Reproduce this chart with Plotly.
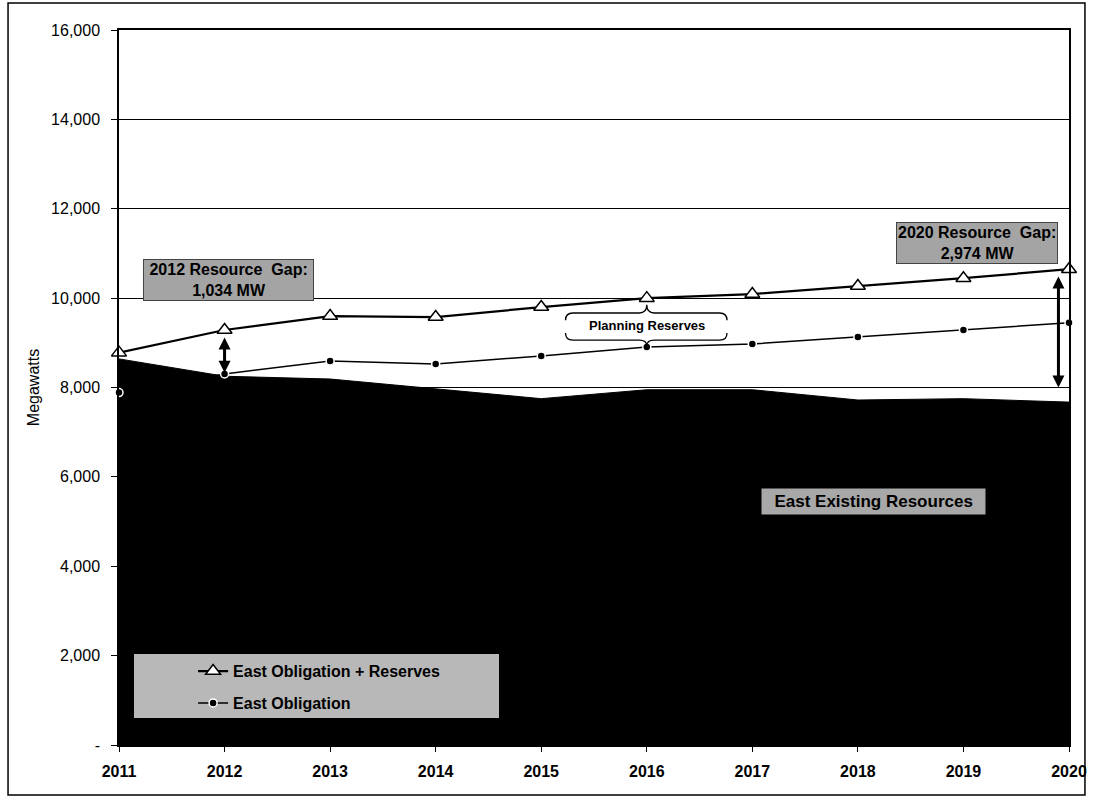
import plotly.graph_objects as go

years = [2011, 2012, 2013, 2014, 2015, 2016, 2017, 2018, 2019, 2020]
existing_resources = [8640, 8252, 8190, 7970, 7750, 7950, 7950, 7720, 7750, 7673]
obligation = [7886, 8304, 8594, 8527, 8705, 8906, 8973, 9129, 9286, 9449]
obligation_reserves = [8780, 9286, 9598, 9576, 9800, 10000, 10090, 10270, 10446, 10647]

y_ticks = [0, 2000, 4000, 6000, 8000, 10000, 12000, 14000, 16000]
y_tick_text = ["-", "2,000", "4,000", "6,000", "8,000", "10,000", "12,000", "14,000", "16,000"]

FONT = "Arial, Liberation Sans, sans-serif"

fig = go.Figure()

fig.add_trace(go.Scatter(
    x=years, y=existing_resources, mode="lines", fill="tozeroy",
    fillcolor="black", line=dict(color="black", width=1),
    name="East Existing Resources", showlegend=False, hoverinfo="skip"))

fig.add_trace(go.Scatter(
    x=years, y=obligation, mode="lines+markers", cliponaxis=False,
    line=dict(color="black", width=1.5),
    marker=dict(symbol="circle", size=8, color="black", line=dict(color="white", width=1.5)),
    name="<b>East Obligation</b>", legendgroup="b", legendrank=2))

fig.add_trace(go.Scatter(
    x=years, y=obligation_reserves, mode="lines+markers", cliponaxis=False,
    line=dict(color="black", width=2.2),
    marker=dict(symbol="triangle-up", size=13, color="white", line=dict(color="black", width=1.5)),
    name="<b>East Obligation + Reserves</b>", legendgroup="a", legendrank=1))

box_font = dict(family=FONT, size=16, color="black")

annotations = [
    dict(x=2012.04, y=10410, xref="x", yref="y", showarrow=False,
         text="<b>&nbsp;2012 Resource  Gap:&nbsp;<br>1,034 MW</b>", font=box_font,
         bgcolor="#a4a4a4", bordercolor="#444", borderwidth=1, borderpad=1),
    dict(x=2019.13, y=11240, xref="x", yref="y", showarrow=False,
         text="<b>2020 Resource  Gap:<br>2,974 MW</b>", font=box_font,
         bgcolor="#a4a4a4", bordercolor="#444", borderwidth=1, borderpad=1),
    dict(x=2018.15, y=5440, xref="x", yref="y", showarrow=False,
         text="<b>&nbsp;&nbsp;East Existing Resources&nbsp;&nbsp;</b>",
         font=dict(family=FONT, size=17, color="black"),
         bgcolor="#a8a8a8", borderpad=3),
    dict(x=2016, y=9380, xref="x", yref="y", showarrow=False,
         text="<b>Planning Reserves</b>", font=dict(family=FONT, size=13, color="black")),
    # double arrows
    dict(x=2012, y=8330, ax=2012, ay=9150, xref="x", yref="y", axref="x", ayref="y",
         showarrow=True, arrowhead=2, startarrowhead=2, arrowside="end+start",
         arrowwidth=3, arrowsize=0.8, startarrowsize=0.8, arrowcolor="black", text=""),
    dict(x=2019.9, y=8000, ax=2019.9, ay=10520, xref="x", yref="y", axref="x", ayref="y",
         showarrow=True, arrowhead=2, startarrowhead=2, arrowside="end+start",
         arrowwidth=3, arrowsize=0.8, startarrowsize=0.8, arrowcolor="black", text=""),
]

# Planning reserves brace box
bx0, bx1 = 2015.23, 2016.76
by0, by1 = 9060, 9667
tip_top, tip_bot = 9850, 8930
r = 0.07
ry = 160
mid = 2016
brace = (f"M {bx0},{by1-ry} Q {bx0},{by1} {bx0+r},{by1} "
         f"L {mid-r},{by1} Q {mid},{by1} {mid},{tip_top} "
         f"Q {mid},{by1} {mid+r},{by1} L {bx1-r},{by1} Q {bx1},{by1} {bx1},{by1-ry} "
         f"M {bx1},{by0+ry} Q {bx1},{by0} {bx1-r},{by0} L {mid+r},{by0} "
         f"Q {mid},{by0} {mid},{tip_bot} Q {mid},{by0} {mid-r},{by0} "
         f"L {bx0+r},{by0} Q {bx0},{by0} {bx0},{by0+ry}")

shapes = [
    # legend background
    dict(type="rect", xref="paper", yref="paper", x0=0.0158, x1=0.40, y0=0.0378, y1=0.1273,
         fillcolor="#b8b8b8", line=dict(width=0), layer="above"),
    dict(type="path", path=brace, xref="x", yref="y", line=dict(color="black", width=1.3)),
    # outer border
    dict(type="rect", xref="paper", yref="paper", x0=-0.1168, x1=1.0168, y0=-0.0699, y1=1.0378,
         line=dict(color="black", width=1.5), fillcolor="rgba(0,0,0,0)"),
]

fig.update_layout(
    width=1093, height=800,
    margin=dict(l=119, r=24, t=30, b=55, autoexpand=False),
    paper_bgcolor="white", plot_bgcolor="white",
    font=dict(family=FONT, size=16, color="black"),
    showlegend=True,
    legend=dict(x=0.078, y=0.127, xanchor="left", yanchor="top",
                bgcolor="rgba(0,0,0,0)", font=dict(family=FONT, size=16, color="black"),
                tracegroupgap=8, traceorder="grouped"),
    annotations=annotations, shapes=shapes,
)

fig.update_xaxes(
    range=[2011, 2020], tickvals=years, ticktext=[f"<b>{y}</b>" for y in years],
    showgrid=False, showline=True, linecolor="black", linewidth=1.5, mirror=True,
    ticks="outside", ticklen=5, tickcolor="black", zeroline=False, ticklabelstandoff=6,
    automargin=False,
    tickfont=dict(family=FONT, size=16, color="black"))

fig.update_yaxes(
    range=[0, 16000], tickvals=y_ticks, ticktext=y_tick_text,
    showgrid=True, gridcolor="black", gridwidth=1,
    showline=True, linecolor="black", linewidth=1.5, mirror=True,
    ticks="outside", ticklen=6, tickcolor="black", zeroline=False, ticklabelstandoff=8,
    automargin=False,
    tickfont=dict(family=FONT, size=16, color="black"),
    title=dict(text="Megawatts", font=dict(family=FONT, size=16, color="black"), standoff=8))

fig.write_html("out.html")
